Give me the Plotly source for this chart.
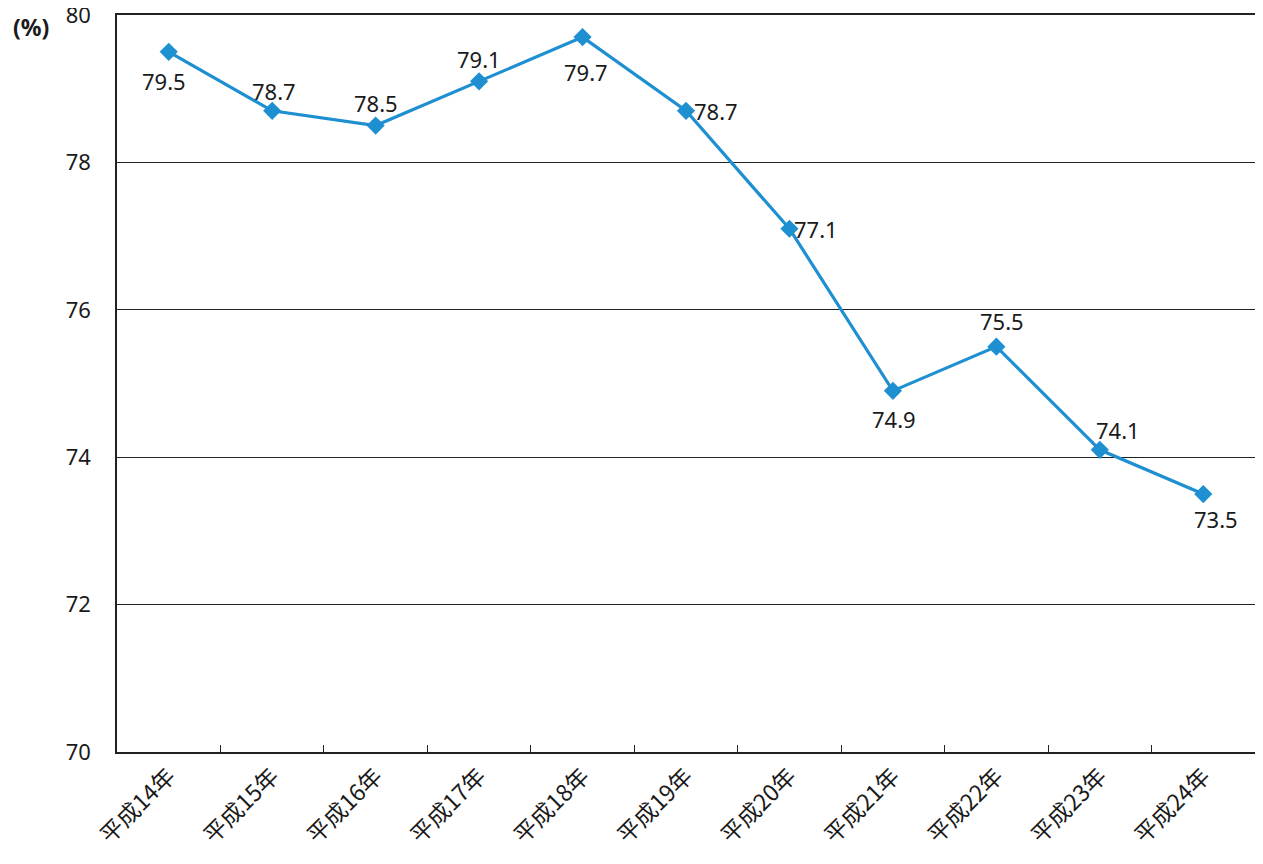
import plotly.graph_objects as go

categories = ["平成14年", "平成15年", "平成16年", "平成17年", "平成18年", "平成19年",
              "平成20年", "平成21年", "平成22年", "平成23年", "平成24年"]
values = [79.5, 78.7, 78.5, 79.1, 79.7, 78.7, 77.1, 74.9, 75.5, 74.1, 73.5]
y_ticks = [70, 72, 74, 76, 78, 80]

# label offsets (style only: pixel shift of each data label from its point)
label_dx = [-5, 2, 0, 0, 3, 30, 27, 1, 6, 18, 13]
label_dy = [-29, 20, 23, 22, -35, 0, 0, -28, 26, 20, -25]

font_family = "Noto Sans, Noto Sans CJK JP, sans-serif"
cjk_family = "Noto Sans CJK JP, sans-serif"

W, H = 1247, 848
L, R, T, B = 109, 0, 7, 104
plot_w = W - L - R
plot_h = H - T - B

fig = go.Figure()
fig.add_trace(go.Scatter(
    x=categories, y=values,
    mode="lines+markers",
    line=dict(color="#1e8fd0", width=3.2),
    marker=dict(symbol="diamond", size=14, color="#1e8fd0"),
    cliponaxis=False,
    showlegend=False,
))

for c, v, dx, dy in zip(categories, values, label_dx, label_dy):
    fig.add_annotation(x=c, y=v, text=f"{v:.1f}", showarrow=False,
                       xshift=dx, yshift=dy, xanchor="center", yanchor="middle",
                       font=dict(size=22, color="#1a1a1a", family=font_family))

fig.update_layout(
    width=W, height=H,
    margin=dict(l=L, r=R, t=T, b=B, autoexpand=False),
    paper_bgcolor="white", plot_bgcolor="white",
    font=dict(family=font_family, color="#1a1a1a"),
)
fig.update_xaxes(
    type="category", range=[-0.5, len(categories) - 0.5], automargin=False,
    showline=True, linecolor="#222", linewidth=1.5,
    ticks="inside", ticklen=7, tickcolor="#222", tickson="boundaries",
    tickangle=-45, tickfont=dict(size=23, family=cjk_family),
    showgrid=False, mirror=True,
)
fig.update_yaxes(
    range=[70, 80], tickvals=y_ticks, automargin=False,
    showline=True, linecolor="#222", linewidth=1.5,
    showgrid=True, gridcolor="#222", gridwidth=1,
    tickfont=dict(size=22), ticks="", ticklabelstandoff=20,
    ticklabeloverflow="allow",
    zeroline=False, mirror=True,
)
fig.add_annotation(text="<b>(%)</b>", xref="paper", yref="paper",
                   x=-L / plot_w, y=1 + (T - 1) / plot_h, xshift=3,
                   xanchor="left", yanchor="top", showarrow=False,
                   font=dict(size=23, color="#1a1a1a", family=font_family))

fig.write_html("out.html")
